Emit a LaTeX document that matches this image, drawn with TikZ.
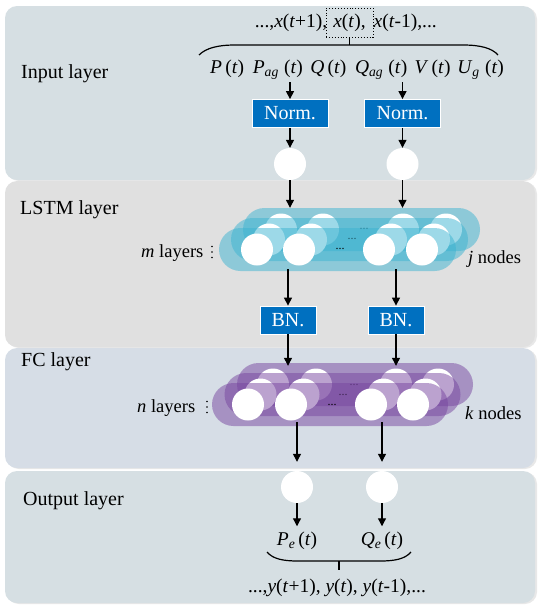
\documentclass[tikz,border=0pt]{standalone}
\usepackage{fontspec}
\setmainfont{Liberation Serif}
\usetikzlibrary{arrows.meta,shapes.misc,shadows}
\definecolor{panelA}{RGB}{214,223,227}
\definecolor{panelB}{RGB}{224,224,224}
\definecolor{panelC}{RGB}{214,221,230}
\definecolor{boxblue}{RGB}{0,112,192}
\definecolor{lstmc}{RGB}{60,180,210}
\definecolor{fcc}{RGB}{120,70,160}
\newcommand\mi[1]{\textit{#1}}
\begin{document}
\begin{tikzpicture}[x=1pt,y=-1pt,
  panel/.style={rounded corners=12pt, drop shadow={shadow xshift=2pt,shadow yshift=-1pt,opacity=0.18}},
  lbl/.style={font=\fontsize{20}{24}\selectfont, anchor=base west, inner sep=0pt},
  item/.style={font=\fontsize{19.5}{23}\selectfont, anchor=base west, inner sep=0pt},
  seq/.style={font=\fontsize{19.5}{23}\selectfont, inner sep=0pt},
  side/.style={font=\fontsize{18.5}{22}\selectfont, anchor=base west, inner sep=0pt},
  bluebox/.style={fill=boxblue, draw=white, line width=0.8pt, text=white, font=\fontsize{20}{24}\selectfont, inner sep=0pt, minimum height=28pt},
  neuron/.style={circle, fill=white, inner sep=0pt, minimum size=32pt},
  arr/.style={line width=1.2pt, -{Triangle[length=8pt,width=8pt]}},
  brace/.style={line width=1.2pt},
  caps/.style={rounded rectangle, inner sep=0pt, minimum height=43pt, fill opacity=0.5},
  dotsn/.style={font=\fontsize{12}{12}\selectfont, inner sep=0pt},
]
\useasboundingbox (0,0) rectangle (540,605);
\fill[white] (0,0) rectangle (540,605);
% panels
\fill[panelA, panel] (5,6) rectangle (535,180);
\fill[panelB, panel] (5,181) rectangle (535,347);
\fill[panelC, panel] (5,348) rectangle (535,468);
\fill[panelA, panel] (5,471) rectangle (535,603);
% layer labels
\node[lbl] (inl) at (21,78) {Input layer};
\node[lbl] (lsl) at (20,214) {LSTM layer};
\node[lbl] (fcl) at (21,366) {FC layer};
\node[lbl] (oul) at (23,505) {Output layer};
% input sequence
\node[seq, draw, dotted, line width=0.9pt, minimum width=47pt, minimum height=29pt] (xt) at (349.5,22.5) {\mi{x}(\mi{t}),};
\node[seq, anchor=base east] (xl) at ([xshift=2pt]xt.base west) {...,\mi{x}(\mi{t}+1),};
\node[seq, anchor=base west] (xr) at (xt.base east) {\mi{x}(\mi{t}-1),...};
\coordinate (tb) at (349.5,45);
\draw[brace] (199,55) .. controls (206,48) and (218,45) .. (235,45) -- (463,45) .. controls (480,45) and (492,48) .. (498,55);
\draw[brace] (xt.south) -- (tb);
% items
\node[item] (p) at (210,73) {\mi{P}\,(\mi{t})};
\node[item] (pag) at (252.6,73) {\mi{P}\textsubscript{\mi{ag}}\hspace{2pt}\,(\mi{t})};
\node[item] (q) at (310.1,73) {\mi{Q}\,(\mi{t})};
\node[item] (qag) at (354.8,73) {\mi{Q}\textsubscript{\mi{ag}}\hspace{2pt}\,(\mi{t})};
\node[item] (v) at (414.5,73) {\mi{V}\,(\mi{t})};
\node[item] (ug) at (457.1,73) {\mi{U}\textsubscript{\mi{g}}\hspace{2pt}\,(\mi{t})};
% norm boxes and input neurons
\node[bluebox, minimum width=76pt] (n1) at (290,113.5) {Norm.};
\node[bluebox, minimum width=76pt] (n2) at (402.5,113.5) {Norm.};
\node[neuron] (c1) at (290,164) {};
\node[neuron] (c2) at (402.5,164) {};
\draw[arr] ([yshift=-3pt]pag.south -| n1.north) -- (n1.north);
\draw[arr] ([yshift=-3pt]qag.south -| n2.north) -- (n2.north);
\draw[arr] (n1.south) -- (c1.north);
\draw[arr] (n2.south) -- (c2.north);
% LSTM block
\foreach \k in {2,1,0} {
  \node[caps, fill=lstmc, minimum width=237pt] (lc\k) at (337.5+12*\k, 249.5-10*\k) {};
  \foreach \xx [count=\i] in {257,299,379,422}
    \node[neuron] (ln\k\i) at (\xx+12*\k, 249.5-10*\k) {};
  \node[dotsn] (ld\k) at (340+12*\k, 249-10*\k) {...};
}
\node[side] (ml) at (141,257) {\mi{m} layers};
\fill (212,246.5) circle (0.9) (212,252) circle (0.9) (212,257.5) circle (0.9);
\node[side] (jn) at (468,263) {\mi{j} nodes};
\draw[arr] (c1.south) -- (c1 |- lc2.north);
\draw[arr] (c2.south) -- (c2 |- lc2.north);
% BN
\node[bluebox, minimum width=56pt] (bn1) at (288,320) {BN.};
\node[bluebox, minimum width=56pt] (bn2) at (396,320) {BN.};
\draw[arr] ([yshift=2pt]bn1 |- lc0.south) -- (bn1.north);
\draw[arr] ([yshift=2pt]bn2 |- lc0.south) -- (bn2.north);
% FC block
\foreach \k in {2,1,0} {
  \node[caps, fill=fcc, minimum width=236pt] (fc\k) at (330+12.5*\k, 404.5-10*\k) {};
  \foreach \xx [count=\i] in {248,291,371,413}
    \node[neuron] (fn\k\i) at (\xx+12.5*\k, 404.5-10*\k) {};
  \node[dotsn] (fd\k) at (332+11*\k, 405-10*\k) {...};
}
\node[side] (nl) at (137,412) {\mi{n} layers};
\fill (207,401.5) circle (0.9) (207,407) circle (0.9) (207,412.5) circle (0.9);
\node[side] (kn) at (465,419) {\mi{k} nodes};
\draw[arr] (bn1.south) -- ([yshift=-3pt]bn1 |- fc2.north);
\draw[arr] (bn2.south) -- ([yshift=-3pt]bn2 |- fc2.north);
% output
\node[neuron] (o1) at (297,487) {};
\node[neuron] (o2) at (382,487) {};
\draw[arr, shorten >=9pt] ([yshift=4pt]o1 |- fc0.south) -- (o1.north);
\draw[arr, shorten >=9pt] ([yshift=4pt]o2 |- fc0.south) -- (o2.north);
\node[item, anchor=base] (pe) at (297,545) {\mi{P}\textsubscript{\mi{e}}\hspace{3pt}(\mi{t})};
\node[item, anchor=base] (qe) at (382,545) {\mi{Q}\textsubscript{\mi{e}}\hspace{3pt}(\mi{t})};
\draw[arr, shorten >=5pt] (o1.south) -- (o1 |- pe.north);
\draw[arr, shorten >=5pt] (o2.south) -- (o2 |- qe.north);
\coordinate (bb) at (339,561);
\draw[brace] (267,552) .. controls (273,559) and (283,561) .. (298,561) -- (380,561) .. controls (395,561) and (405,559) .. (411,552);
\node[seq, anchor=base] (yt) at (337,592) {...,\mi{y}(\mi{t}+1), \mi{y}(\mi{t}), \mi{y}(\mi{t}-1),...};
\draw[brace] (bb) -- (bb |- 0,570);
\end{tikzpicture}
\end{document}
